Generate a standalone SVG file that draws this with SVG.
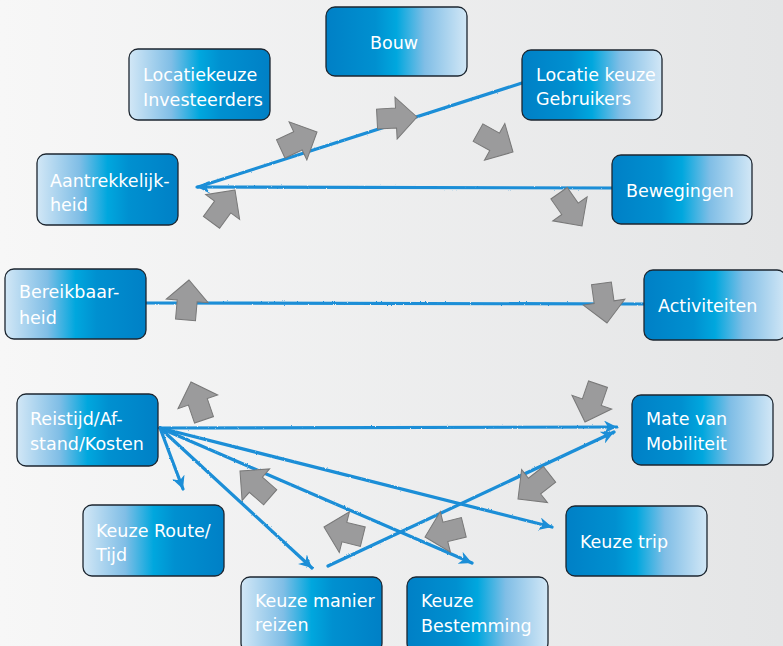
<svg xmlns="http://www.w3.org/2000/svg" width="783" height="646" viewBox="0 0 783 646">
<defs>
<linearGradient id="bg" x1="0" y1="0" x2="1" y2="0">
<stop offset="0" stop-color="#f7f7f7"/>
<stop offset="1" stop-color="#e4e5e6"/>
</linearGradient>
<linearGradient id="dl" x1="0" y1="0" x2="1" y2="0">
<stop offset="0" stop-color="#0080c6"/>
<stop offset="0.35" stop-color="#0090d0"/>
<stop offset="0.5" stop-color="#00a7de"/>
<stop offset="0.7" stop-color="#80bee6"/>
<stop offset="1" stop-color="#d2e7f6"/>
</linearGradient>
<linearGradient id="ll" x1="1" y1="0" x2="0" y2="0">
<stop offset="0" stop-color="#0080c6"/>
<stop offset="0.35" stop-color="#0090d0"/>
<stop offset="0.5" stop-color="#00a7de"/>
<stop offset="0.7" stop-color="#80bee6"/>
<stop offset="1" stop-color="#d2e7f6"/>
</linearGradient>
<filter id="rough" filterUnits="userSpaceOnUse" x="0" y="0" width="783" height="646">
<feTurbulence type="fractalNoise" baseFrequency="0.7" numOctaves="2" seed="4"/>
<feDisplacementMap in="SourceGraphic" scale="2" xChannelSelector="R" yChannelSelector="G"/>
</filter>
<marker id="ah" markerWidth="15" markerHeight="13" refX="13" refY="6.5" orient="auto" markerUnits="userSpaceOnUse">
<path d="M0,0 L13,6.5 L0,13 L4,6.5 Z" fill="#1a8ed7"/>
</marker>
<path id="ga" d="M0,0 L-21,-21 L-21,-10 L-40,-10 L-40,10 L-21,10 L-21,21 Z"/>
<style>
.box{stroke:#1c2630;stroke-width:1.3}
.t{font-family:"DejaVu Sans","Liberation Sans",sans-serif;font-size:17.5px;fill:#ffffff}
.c{fill:none;stroke:#1a8ed7;stroke-width:3.2;stroke-linecap:round}
.g{fill:#9b9b9c;stroke:#787878;stroke-width:1}
</style>
</defs>
<rect x="0" y="0" width="783" height="646" fill="url(#bg)"/>

<g id="connectors">
<g filter="url(#rough)">
<path class="c" d="M522,83 L198,187"/>
<path class="c" d="M612,188 L197,187" marker-end="url(#ah)"/>
<path class="c" d="M146,303 L644,304"/>
<path class="c" d="M160,428 L617,427" marker-end="url(#ah)"/>
<path class="c" d="M160,428 L552,527" marker-end="url(#ah)"/>
<path class="c" d="M160,428 L472,563" marker-end="url(#ah)"/>
<path class="c" d="M160,428 L312,568" marker-end="url(#ah)"/>
<path class="c" d="M160,428 L183,489" marker-end="url(#ah)"/>
<path class="c" d="M328,566 L614,432" marker-end="url(#ah)" stroke-width="2.6"/>
</g>
</g>

<g id="cycle-arrows">
<use href="#ga" class="g" transform="translate(317,132) rotate(-25)"/>
<use href="#ga" class="g" transform="translate(417,117) rotate(-3)"/>
<use href="#ga" class="g" transform="translate(513,152) rotate(29)"/>
<use href="#ga" class="g" transform="translate(582,226) rotate(55)"/>
<use href="#ga" class="g" transform="translate(607,323) rotate(82)"/>
<use href="#ga" class="g" transform="translate(585,422) rotate(109)"/>
<use href="#ga" class="g" transform="translate(518,499) rotate(142)"/>
<use href="#ga" class="g" transform="translate(425,537) rotate(166)"/>
<use href="#ga" class="g" transform="translate(324,527) rotate(-166)"/>
<use href="#ga" class="g" transform="translate(240,471) rotate(-139)"/>
<use href="#ga" class="g" transform="translate(191,382) rotate(-109)"/>
<use href="#ga" class="g" transform="translate(189,280) rotate(-85)"/>
<use href="#ga" class="g" transform="translate(235,190) rotate(-54)"/>
</g>

<g id="bouw">
<rect class="box" x="326" y="7" width="141" height="69" rx="9" fill="url(#dl)"/>
<text class="t" x="394" y="49" text-anchor="middle">Bouw</text>
</g>
<g id="locatiekeuze-investeerders">
<rect class="box" x="129" y="49" width="141" height="71" rx="9" fill="url(#ll)"/>
<text class="t" x="143" y="81">Locatiekeuze</text>
<text class="t" x="143" y="106">Investeerders</text>
</g>
<g id="locatie-keuze-gebruikers">
<rect class="box" x="522" y="50" width="140" height="70" rx="9" fill="url(#dl)"/>
<text class="t" x="536" y="81">Locatie keuze</text>
<text class="t" x="536" y="105">Gebruikers</text>
</g>
<g id="bewegingen">
<rect class="box" x="612" y="155" width="140" height="69" rx="9" fill="url(#dl)"/>
<text class="t" x="626" y="197">Bewegingen</text>
</g>
<g id="aantrekkelijkheid">
<rect class="box" x="37" y="154" width="141" height="71" rx="9" fill="url(#ll)"/>
<text class="t" x="50" y="187">Aantrekkelijk-</text>
<text class="t" x="50" y="211">heid</text>
</g>
<g id="bereikbaarheid">
<rect class="box" x="5" y="269" width="141" height="70" rx="9" fill="url(#ll)"/>
<text class="t" x="19" y="298">Bereikbaar-</text>
<text class="t" x="19" y="324">heid</text>
</g>
<g id="activiteiten">
<rect class="box" x="644" y="270" width="142" height="70" rx="9" fill="url(#dl)"/>
<text class="t" x="658" y="312">Activiteiten</text>
</g>
<g id="reistijd">
<rect class="box" x="17" y="394" width="141" height="72" rx="9" fill="url(#ll)"/>
<text class="t" x="30" y="425">Reistijd/Af-</text>
<text class="t" x="30" y="450">stand/Kosten</text>
</g>
<g id="keuze-route">
<rect class="box" x="83" y="505" width="141" height="71" rx="9" fill="url(#ll)"/>
<text class="t" x="96" y="537">Keuze Route/</text>
<text class="t" x="96" y="561">Tijd</text>
</g>
<g id="keuze-manier-reizen">
<rect class="box" x="241" y="577" width="141" height="75" rx="9" fill="url(#ll)"/>
<text class="t" x="255" y="607">Keuze manier</text>
<text class="t" x="255" y="631">reizen</text>
</g>
<g id="keuze-bestemming">
<rect class="box" x="407" y="577" width="141" height="75" rx="9" fill="url(#dl)"/>
<text class="t" x="421" y="607">Keuze</text>
<text class="t" x="421" y="632">Bestemming</text>
</g>
<g id="keuze-trip">
<rect class="box" x="566" y="506" width="141" height="70" rx="9" fill="url(#dl)"/>
<text class="t" x="580" y="548">Keuze trip</text>
</g>
<g id="mate-van-mobiliteit">
<rect class="box" x="632" y="395" width="141" height="70" rx="9" fill="url(#dl)"/>
<text class="t" x="646" y="425">Mate van</text>
<text class="t" x="646" y="450">Mobiliteit</text>
</g>
</svg>
